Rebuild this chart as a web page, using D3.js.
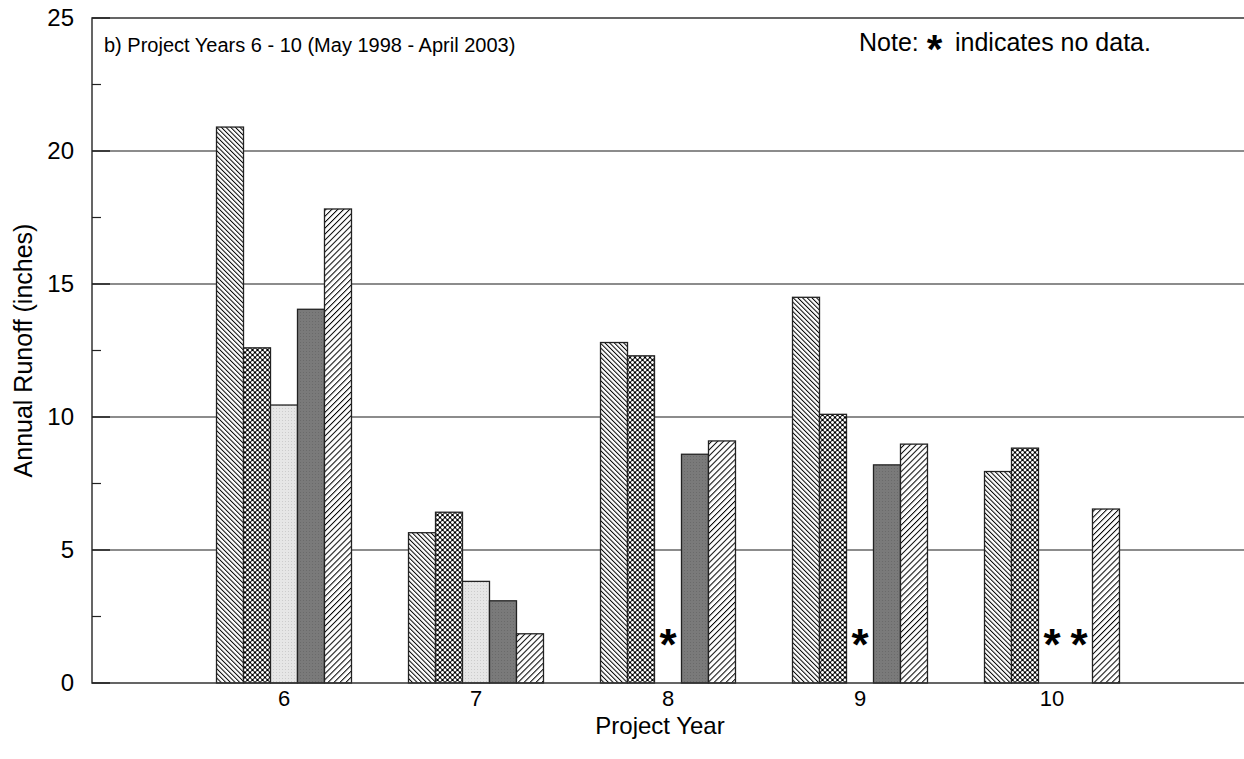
<!DOCTYPE html>
<html>
<head>
<meta charset="utf-8">
<script src="https://cdn.jsdelivr.net/npm/d3@7"></script>
<style>
    body { margin: 0; background: #fff; }
    text { font-family: "Liberation Sans", Arial, sans-serif; fill: #000; }
</style>
</head>
<body>
<svg id="chart" width="1244" height="759"></svg>
<script>
var years = [6, 7, 8, 9, 10];
var seriesKeys = ['s1', 's2', 's3', 's4', 's5'];
// annual runoff (inches), null = no data
var s1 = [20.9, 5.65, 12.8, 14.5, 7.95];
var s2 = [12.6, 6.42, 12.3, 10.1, 8.83];
var s3 = [10.45, 3.82, null, null, null];
var s4 = [14.05, 3.09, 8.6, 8.2, null];
var s5 = [17.82, 1.85, 9.1, 8.98, 6.54];
var yTicks = [0, 5, 10, 15, 20, 25];
var yMinor = [2.5, 7.5, 12.5, 17.5, 22.5];

var seriesValues = [s1, s2, s3, s4, s5];

(function () {
    var width = 1244,
        height = 759,
        left = 92,
        top = 18,
        bottom = 683;

    var svg = d3.select('#chart');
    var defs = svg.append('defs');

    // fill patterns
    var p1 = defs.append('pattern').attr('id', 'pat-s1')
        .attr('patternUnits', 'userSpaceOnUse')
        .attr('width', 3.3).attr('height', 10)
        .attr('patternTransform', 'rotate(-45)');
    p1.append('rect').attr('width', 3.3).attr('height', 10).style('fill', '#fff');
    p1.append('line').attr('x1', 0.5).attr('x2', 0.5).attr('y1', 0).attr('y2', 10)
        .style('stroke', '#000').style('stroke-width', 1);

    var p2 = defs.append('pattern').attr('id', 'pat-s2')
        .attr('patternUnits', 'userSpaceOnUse')
        .attr('width', 5).attr('height', 5);
    p2.append('rect').attr('width', 5).attr('height', 5).style('fill', '#000');
    [[0, 0], [5, 0], [0, 5], [5, 5], [2.5, 2.5]].forEach(function (c) {
        p2.append('circle').attr('cx', c[0]).attr('cy', c[1]).attr('r', 1.45).style('fill', '#fff');
    });

    var p3 = defs.append('pattern').attr('id', 'pat-s3')
        .attr('patternUnits', 'userSpaceOnUse')
        .attr('width', 3).attr('height', 3);
    p3.append('rect').attr('width', 3).attr('height', 3).style('fill', '#e6e6e6');
    p3.append('rect').attr('width', 1).attr('height', 1).style('fill', '#cccccc');

    var p4 = defs.append('pattern').attr('id', 'pat-s4')
        .attr('patternUnits', 'userSpaceOnUse')
        .attr('width', 3).attr('height', 3);
    p4.append('rect').attr('width', 3).attr('height', 3).style('fill', '#7a7a7a');
    p4.append('rect').attr('width', 1).attr('height', 1).style('fill', '#6a6a6a');

    var p5 = defs.append('pattern').attr('id', 'pat-s5')
        .attr('patternUnits', 'userSpaceOnUse')
        .attr('width', 4.2).attr('height', 10)
        .attr('patternTransform', 'rotate(45)');
    p5.append('rect').attr('width', 4.2).attr('height', 10).style('fill', '#fff');
    p5.append('line').attr('x1', 0.5).attr('x2', 0.5).attr('y1', 0).attr('y2', 10)
        .style('stroke', '#000').style('stroke-width', 1);

    var x = d3.scaleLinear().domain([5, 11]).range([left, width]);
    var y = d3.scaleLinear().domain([0, 25]).range([bottom, top]);

    var groupWidth = (x(6) - x(5)) * 0.703;
    var inner = d3.scaleBand().domain(seriesKeys).range([-groupWidth / 2, groupWidth / 2]);

    // gridlines
    svg.append('g')
        .selectAll('line')
        .data(yTicks.filter(function (d) { return d > 0 && d < 25; }))
        .enter().append('line')
        .attr('x1', left).attr('x2', width)
        .attr('y1', function (d) { return y(d); })
        .attr('y2', function (d) { return y(d); })
        .style('stroke', '#666').style('stroke-width', 1.5);

    // bars
    var rows = [];
    years.forEach(function (yr, i) {
        seriesKeys.forEach(function (k, j) {
            rows.push({year: yr, key: k, value: seriesValues[j][i]});
        });
    });

    svg.append('g')
        .selectAll('rect')
        .data(rows.filter(function (d) { return d.value != null; }))
        .enter().append('rect')
        .attr('x', function (d) { return x(d.year) + inner(d.key); })
        .attr('y', function (d) { return y(d.value); })
        .attr('width', inner.bandwidth())
        .attr('height', function (d) { return y(0) - y(d.value); })
        .style('fill', function (d) { return 'url(#pat-' + d.key + ')'; })
        .style('stroke', '#222')
        .style('stroke-width', 1.3);

    // no-data markers
    svg.append('g')
        .selectAll('text')
        .data(rows.filter(function (d) { return d.value == null; }))
        .enter().append('text')
        .attr('x', function (d) { return x(d.year) + inner(d.key) + inner.bandwidth() / 2; })
        .attr('y', y(0) - 23)
        .attr('text-anchor', 'middle')
        .style('font-size', '44px')
        .style('font-weight', 'bold')
        .text('*');

    // frame
    svg.append('path')
        .attr('d', 'M' + width + ',' + top + 'H' + left + 'V' + bottom + 'H' + width)
        .style('fill', 'none').style('stroke', '#333').style('stroke-width', 1.5);

    // y ticks
    svg.append('g')
        .selectAll('line')
        .data(yTicks)
        .enter().append('line')
        .attr('x1', left).attr('x2', left + 18)
        .attr('y1', function (d) { return y(d); })
        .attr('y2', function (d) { return y(d); })
        .style('stroke', '#222').style('stroke-width', 1.5);
    svg.append('g')
        .selectAll('line')
        .data(yMinor)
        .enter().append('line')
        .attr('x1', left).attr('x2', left + 9)
        .attr('y1', function (d) { return y(d); })
        .attr('y2', function (d) { return y(d); })
        .style('stroke', '#222').style('stroke-width', 1.2);

    svg.append('g')
        .selectAll('text')
        .data(yTicks)
        .enter().append('text')
        .attr('x', 74)
        .attr('y', function (d) { return y(d); })
        .attr('dy', '0.35em')
        .attr('text-anchor', 'end')
        .style('font-size', '24px')
        .text(function (d) { return d; });

    // x labels
    svg.append('g')
        .selectAll('text')
        .data(years)
        .enter().append('text')
        .attr('x', function (d) { return x(d); })
        .attr('y', 706)
        .attr('text-anchor', 'middle')
        .style('font-size', '22px')
        .text(function (d) { return d; });

    svg.append('text')
        .attr('x', x(8) - 8)
        .attr('y', 734)
        .attr('text-anchor', 'middle')
        .style('font-size', '24px')
        .text('Project Year');

    svg.append('text')
        .attr('transform', 'translate(32,' + ((top + bottom) / 2) + ') rotate(-90)')
        .attr('text-anchor', 'middle')
        .style('font-size', '25px')
        .text('Annual Runoff (inches)');

    svg.append('text')
        .attr('x', 104)
        .attr('y', 52)
        .style('font-size', '20px')
        .text('b) Project Years 6 - 10 (May 1998 - April 2003)');

    // note
    svg.append('text')
        .attr('x', 859)
        .attr('y', 51)
        .style('font-size', '25px')
        .text('Note:');
    svg.append('text')
        .attr('x', 934.5)
        .attr('y', 63)
        .attr('text-anchor', 'middle')
        .style('font-size', '40px')
        .style('font-weight', 'bold')
        .text('*');
    svg.append('text')
        .attr('x', 955)
        .attr('y', 51)
        .style('font-size', '25px')
        .text('indicates no data.');
}());
</script>
</body>
</html>
